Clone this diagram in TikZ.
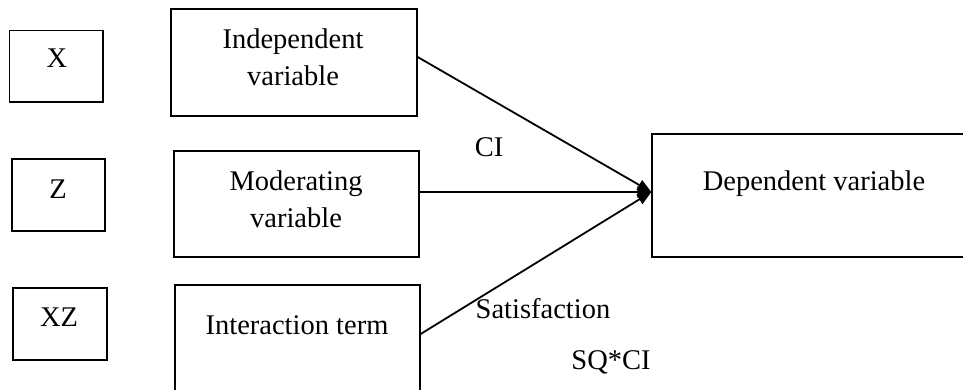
\documentclass[tikz,border=0pt]{standalone}
\usepackage{fontspec}
\setmainfont{Liberation Serif}
\usetikzlibrary{arrows.meta}
\begin{document}
\begin{tikzpicture}[x=1pt,y=-1pt,
 box/.style={draw,line width=1.3pt,inner sep=0pt},
 txt/.style={anchor=base,inner sep=0pt,font=\fontsize{28.5}{37}\selectfont},
 arr/.style={line width=1.8pt,-{Triangle[length=14pt,width=11pt]}}]
\useasboundingbox (0,0) rectangle (963,390);
\clip (0,0) rectangle (963,390);
% small boxes
\node[box,minimum width=93.5pt,minimum height=71.5pt] (bx) at (56.25,66.25) {};
\node[box,minimum width=93pt,minimum height=72pt] (bz) at (58.5,195) {};
\node[box,minimum width=94pt,minimum height=72pt] (bxz) at (60,324) {};
% main boxes
\node[box,minimum width=246pt,minimum height=107pt] (indep) at (294,62.5) {};
\node[box,minimum width=245pt,minimum height=106pt] (mod) at (296.5,204) {};
\node[box,minimum width=245pt,minimum height=115pt] (inter) at (297.5,342.5) {};
\node[box,minimum width=324pt,minimum height=123pt] (dep) at (814,195.5) {};
% texts
\node[txt] (tx) at (57,68) {X};
\node[txt] (tz) at (58,198) {Z};
\node[txt] (txz) at (59,326) {XZ};
\node[txt] (tind1) at (293,48.5) {Independent};
\node[txt] (tind2) at (293,86) {variable};
\node[txt] (tmod1) at (296,190) {Moderating};
\node[txt] (tmod2) at (296,227) {variable};
\node[txt] (tint) at (297,334) {Interaction term};
\node[txt] (tdep) at (814,190) {Dependent variable};
\node[txt] (lci) at (489,157) {CI};
\node[txt] (lsat) at (543,318) {Satisfaction};
\node[txt] (lsq) at (611,369) {SQ*CI};
% arrows
\coordinate (tip) at ([yshift=3.5pt]dep.west);
\draw[arr] ([yshift=5.5pt]indep.east) -- (tip);
\draw[arr] (mod.east |- tip) -- (tip);
\draw[arr] ([yshift=8.5pt]inter.east) -- (tip);
\end{tikzpicture}
\end{document}
